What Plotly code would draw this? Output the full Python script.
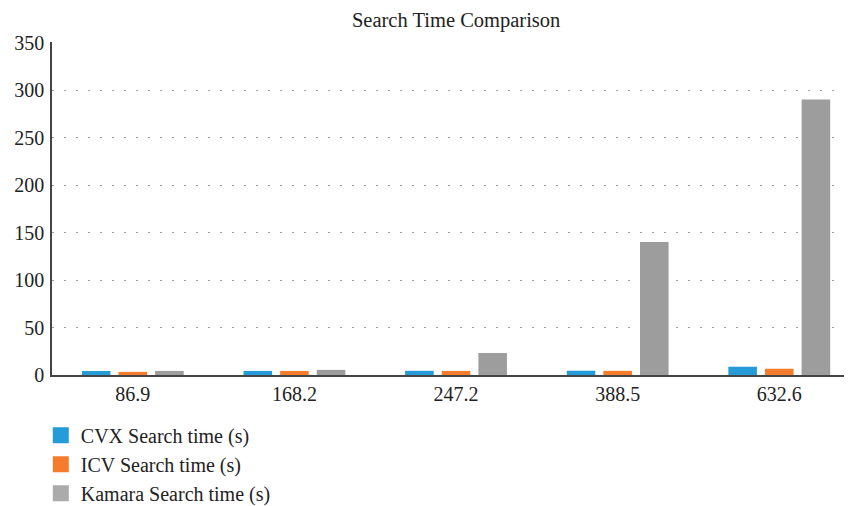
import plotly.graph_objects as go

categories = ["86.9", "168.2", "247.2", "388.5", "632.6"]
cvx = [4.2, 4.3, 4.4, 4.5, 8.7]
icv = [3.3, 4.3, 4.3, 4.4, 6.6]
kamara = [4.3, 5.4, 23.2, 140, 290]

names = ["CVX Search time (s)", "ICV Search time (s)", "Kamara Search time (s)"]
colors = ["#259bd8", "#f47c2c", "#9d9d9d"]
legend_colors = ["#259bd8", "#f47c2c", "#ababab"]

FONT = "Liberation Serif"

fig = go.Figure()
for name, vals, col in zip(names, [cvx, icv, kamara], colors):
    fig.add_trace(go.Bar(x=categories, y=vals, name=name, showlegend=False,
                         marker=dict(color=col, line=dict(width=0))))
# legend entries with larger square swatches
for name, col in zip(names, legend_colors):
    fig.add_trace(go.Scatter(x=[None], y=[None], mode="markers", name=name,
                             marker=dict(symbol="square", size=16, color=col)))

fig.update_layout(
    width=844, height=498,
    margin=dict(l=44, r=0, t=34, b=131),
    paper_bgcolor="white", plot_bgcolor="white",
    font=dict(family=FONT, size=20, color="#222222"),
    title=dict(text="Search Time Comparison", x=0.531, xanchor="center", y=0.976, yanchor="middle",
               font=dict(family=FONT, size=20.5, color="#222222")),
    barmode="group", bargap=0.32, bargroupgap=0.22,
    showlegend=True,
    legend=dict(x=-0.014, xanchor="left", xref="paper", y=0.181, yanchor="top", yref="container",
                orientation="v", font=dict(family=FONT, size=20), itemwidth=30, tracegroupgap=0,
                bgcolor="rgba(0,0,0,0)"),
    xaxis=dict(showline=True, linecolor="#444444", linewidth=1.5, showgrid=False, ticks="",
               range=[-0.5, 4.45], tickfont=dict(size=20), fixedrange=True),
    yaxis=dict(range=[0, 350.6], tickvals=[0, 50, 100, 150, 200, 250, 300, 350],
               showline=True, linecolor="#444444", linewidth=1.5,
               showgrid=True, gridcolor="#a0a0a0", griddash="1.5px,10.5px", gridwidth=1.2,
               zeroline=False, ticks="", ticklabelstandoff=2, tickfont=dict(size=20)),
)

fig.write_html("out.html")
